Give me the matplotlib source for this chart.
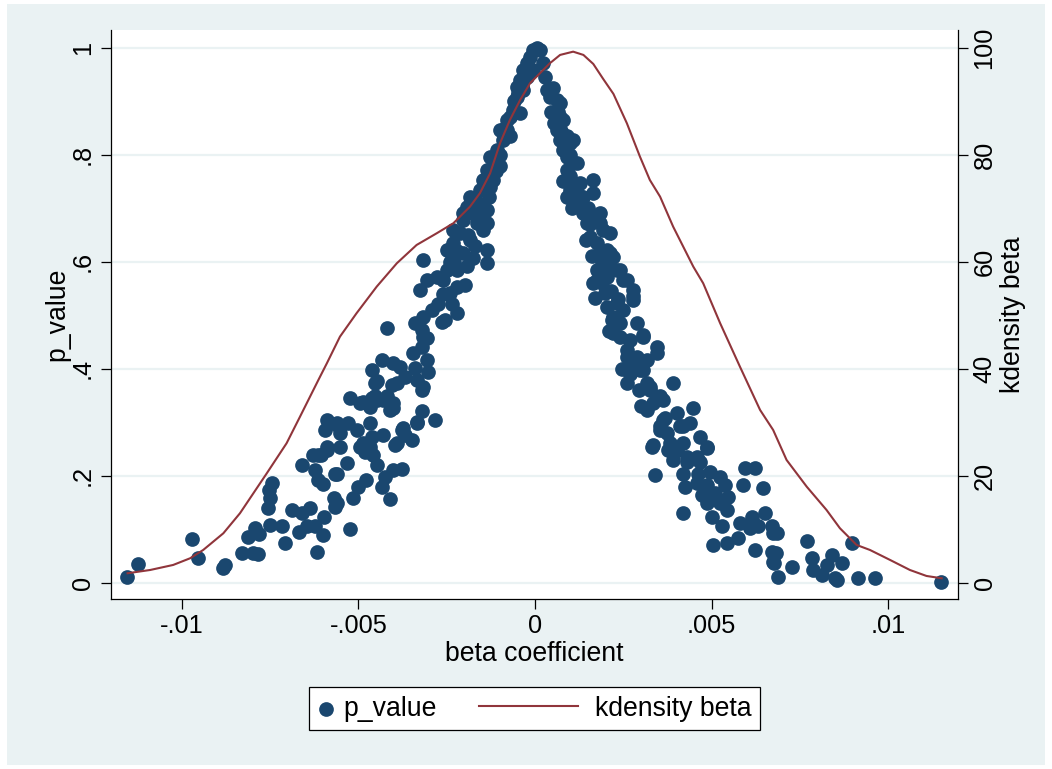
import numpy as np
import matplotlib
matplotlib.use("Agg")
import matplotlib.pyplot as plt
from matplotlib.patches import Rectangle
from matplotlib.legend_handler import HandlerPathCollection, HandlerLine2D

plt.rcParams['font.family'] = ['Liberation Sans', 'DejaVu Sans']

navy = '#1a476f'
maroon = '#90353b'
bg = '#eaf2f3'

# scatter: beta coefficient (in units of 1e-3) against p_value
beta_e3 = [
    -11.54, -11.23, -9.71, -9.55, -8.82, -8.77, -8.30, -7.97, -7.85, -8.11,
    -7.92, -7.82, -7.50, -7.17, -7.07, -7.57, -7.50, -7.52, -7.45, -6.88,
    -6.69, -6.60, -6.37, -6.46, -6.18, -6.01, -5.97, -6.23, -6.58, -6.23,
    -6.13, -6.01, -6.29, -6.06, -5.89, -5.94, -5.89, -5.66, -5.70, -5.66,
    -5.61, -5.61, -5.23, -5.14, -5.00, -4.77, -4.34, -4.10, -4.24, -4.01,
    -3.77, -5.61, -5.33, -6.13, -5.89, -5.52, -5.61, -5.52, -5.28, -5.03,
    -4.95, -4.81, -4.86, -4.67, -4.58, -4.48, -4.67, -4.62, -4.29, -3.96,
    -3.68, -3.49, -3.73, -3.35, -3.21, -5.23, -4.95, -4.67, -4.53, -4.48,
    -4.29, -4.10, -4.01, -4.62, -4.48, -4.34, -4.01, -4.06, -3.82, -3.68,
    -3.40, -3.35, -3.21, -3.44, -4.20, -3.40, -3.21, -3.16, -3.16, -3.91,
    -3.77, -3.35, -2.83, -4.86, -4.62, -4.20, -4.01, -3.91, -4.53, -3.16,
    -3.06, -3.02, -3.21, -3.06, -2.92, -2.55, -2.22, -2.64, -3.25, -3.06,
    -2.59, -2.41, -2.22, -1.98, -3.16, -2.50, -2.41, -2.22, -1.93, -1.75,
    -2.45, -2.03, -2.12, -1.84, -1.46, -2.03, -2.78, -2.50, -2.31, -2.03,
    -1.75, -1.37, -1.65, -1.37, -1.37, -1.46, -1.37, -1.27, -1.08, -0.99,
    -0.90, -0.80, -0.61, -0.52, -0.42, -0.33, -0.23, -0.14, -0.05, 0.05,
    -0.80, -0.99, -1.18, -1.27, -1.56, -1.84, -1.93, -1.65, -1.37, -2.31,
    -0.71, -0.52, -0.42, -0.33, -0.23, -0.05, 0.14, 0.23, 0.28, 0.33,
    0.42, 0.52, 0.61, 0.71, 0.71, 0.80, 0.61, 0.71, 0.90, 0.99,
    0.80, 0.90, 1.08, 0.90, 0.80, 0.99, 0.90, 1.27, 1.65, 1.65,
    1.37, 1.18, 1.37, 1.46, 1.65, 1.84, 1.93, 2.12, 1.56, 1.75,
    2.03, 1.84, 2.22, 1.75, 2.03, 2.41, 2.59, 1.75, 1.08, 1.18,
    1.84, 2.12, 2.31, 1.65, 2.03, 2.50, 2.78, 2.78, 1.70, 2.03,
    2.22, 2.50, 2.88, 3.06, 2.22, 2.59, 2.78, 3.44, 3.44, 3.16,
    2.97, 2.59, 3.25, 3.91, 3.54, 3.16, 3.35, 4.48, 4.01, 3.63,
    3.54, 4.39, 4.67, 3.82, 4.20, 3.35, 4.86, 2.78, 1.98, 2.31,
    2.17, 2.41, 2.69, 3.06, 2.59, 2.88, 2.78, 3.06, 3.16, 3.25,
    3.63, 3.68, 4.20, 3.73, 3.82, 4.29, 4.58, 3.54, 4.10, 3.30,
    3.77, 4.01, 4.86, 3.91, 4.29, 4.67, 3.40, 4.20, 4.62, 4.95,
    5.23, 4.24, 4.58, 4.86, 5.38, 4.72, 5.09, 5.47, 4.86, 5.23,
    5.42, 5.00, 4.20, 5.28, 5.94, 5.89, 6.46, 5.80, 6.13, 6.51,
    6.32, 6.70, 6.74, 6.08, 5.75, 5.42, 5.05, 6.23, 6.70, 6.74,
    6.89, 7.26, 7.69, 7.83, 7.88, 8.11, 8.40, 8.49, 6.23, 6.18,
    6.84, 6.81, 6.76, 8.25, 8.68, 8.54, 8.96, 9.15, 9.62, 11.49,
    # dense parts of the two branches near the peak
    -1.10, -1.20, -1.00, -0.85, -0.70, -0.60, -0.48, -0.38, -1.50, -1.60,
    -1.75, -1.30, -1.50, -2.20, -2.30, -1.90, -1.70, -2.60, -2.75, -2.35,
    0.45, 0.55, 0.65, 0.75, 0.85, 1.00, 1.00, 1.10, 1.05, 1.20,
    1.30, 1.50, 1.55, 1.45, 1.60, 1.90, 1.90, 2.15, 2.35, 2.10,
    2.40, 2.45, 2.70, 2.95, 3.00,
]
p_value = [
    0.011, 0.035, 0.082, 0.047, 0.027, 0.033, 0.055, 0.056, 0.054, 0.086,
    0.102, 0.091, 0.108, 0.105, 0.075, 0.139, 0.158, 0.173, 0.187, 0.136,
    0.095, 0.130, 0.139, 0.105, 0.057, 0.089, 0.123, 0.105, 0.219, 0.211,
    0.192, 0.184, 0.239, 0.239, 0.248, 0.285, 0.304, 0.204, 0.158, 0.142,
    0.298, 0.148, 0.100, 0.158, 0.179, 0.192, 0.179, 0.156, 0.198, 0.211,
    0.212, 0.204, 0.223, 0.239, 0.254, 0.254, 0.295, 0.279, 0.299, 0.285,
    0.254, 0.245, 0.261, 0.254, 0.239, 0.220, 0.298, 0.273, 0.276, 0.257,
    0.276, 0.267, 0.289, 0.298, 0.320, 0.345, 0.335, 0.329, 0.348, 0.342,
    0.342, 0.323, 0.335, 0.398, 0.376, 0.416, 0.410, 0.370, 0.404, 0.385,
    0.401, 0.379, 0.360, 0.429, 0.476, 0.485, 0.472, 0.497, 0.460, 0.261,
    0.285, 0.301, 0.304, 0.338, 0.345, 0.348, 0.326, 0.373, 0.373, 0.366,
    0.416, 0.394, 0.441, 0.457, 0.510, 0.491, 0.504, 0.488, 0.547, 0.566,
    0.566, 0.541, 0.553, 0.556, 0.603, 0.584, 0.600, 0.584, 0.591, 0.606,
    0.622, 0.616, 0.653, 0.641, 0.659, 0.678, 0.572, 0.622, 0.659, 0.690,
    0.715, 0.697, 0.672, 0.622, 0.597, 0.753, 0.771, 0.796, 0.809, 0.778,
    0.827, 0.865, 0.883, 0.908, 0.940, 0.958, 0.971, 0.983, 0.996, 1.000,
    0.846, 0.846, 0.753, 0.740, 0.734, 0.721, 0.703, 0.697, 0.672, 0.634,
    0.834, 0.927, 0.877, 0.921, 0.946, 0.958, 0.996, 0.971, 0.946, 0.921,
    0.908, 0.924, 0.902, 0.896, 0.871, 0.865, 0.846, 0.827, 0.834, 0.821,
    0.809, 0.796, 0.784, 0.771, 0.750, 0.734, 0.721, 0.747, 0.753, 0.728,
    0.721, 0.709, 0.690, 0.672, 0.684, 0.690, 0.659, 0.653, 0.647, 0.634,
    0.622, 0.616, 0.609, 0.584, 0.591, 0.584, 0.566, 0.566, 0.827, 0.784,
    0.672, 0.616, 0.584, 0.560, 0.572, 0.566, 0.547, 0.535, 0.532, 0.516,
    0.497, 0.510, 0.485, 0.460, 0.466, 0.435, 0.410, 0.441, 0.429, 0.416,
    0.398, 0.373, 0.366, 0.373, 0.348, 0.323, 0.335, 0.326, 0.317, 0.304,
    0.292, 0.298, 0.273, 0.261, 0.261, 0.257, 0.254, 0.528, 0.541, 0.522,
    0.491, 0.485, 0.454, 0.463, 0.422, 0.422, 0.404, 0.398, 0.373, 0.360,
    0.342, 0.307, 0.292, 0.279, 0.248, 0.235, 0.235, 0.285, 0.292, 0.254,
    0.248, 0.248, 0.251, 0.229, 0.226, 0.226, 0.201, 0.204, 0.204, 0.207,
    0.198, 0.179, 0.186, 0.183, 0.183, 0.164, 0.167, 0.161, 0.148, 0.148,
    0.136, 0.123, 0.130, 0.105, 0.214, 0.183, 0.176, 0.111, 0.123, 0.130,
    0.105, 0.105, 0.092, 0.102, 0.083, 0.074, 0.070, 0.061, 0.058, 0.039,
    0.011, 0.030, 0.077, 0.046, 0.024, 0.014, 0.052, 0.008, 0.214, 0.111,
    0.092, 0.055, 0.036, 0.033, 0.037, 0.005, 0.074, 0.009, 0.009, 0.001,
    # dense parts of the two branches near the peak
    0.770, 0.790, 0.800, 0.850, 0.870, 0.900, 0.915, 0.930, 0.700, 0.710,
    0.690, 0.720, 0.680, 0.620, 0.600, 0.650, 0.630, 0.540, 0.520, 0.520,
    0.880, 0.860, 0.880, 0.845, 0.810, 0.800, 0.760, 0.745, 0.700, 0.730,
    0.700, 0.700, 0.670, 0.640, 0.610, 0.600, 0.560, 0.545, 0.530, 0.470,
    0.460, 0.400, 0.390, 0.360, 0.330,
]

# kernel density of beta (beta in units of 1e-3)
kd_beta_e3 = [
    -11.53, -10.89, -10.24, -9.76, -9.39, -8.82, -8.35, -7.97, -7.59, -7.03,
    -6.65, -6.13, -5.89, -5.52, -5.05, -4.48, -3.91, -3.35, -2.78, -2.31,
    -1.84, -1.56, -1.27, -0.99, -0.71, -0.42, -0.14, 0.14, 0.42, 0.71,
    1.08, 1.37, 1.65, 1.93, 2.22, 2.60, 2.97, 3.25, 3.54, 3.91,
    4.48, 4.76, 5.24, 5.80, 6.37, 6.74, 7.12, 7.69, 8.25, 8.63,
    9.10, 9.48, 10.05, 10.61, 11.08, 11.51,
]
kd_dens = [
    1.76, 2.37, 3.31, 4.56, 6.11, 9.23, 12.97, 16.71, 20.45, 26.06,
    31.03, 37.89, 41.01, 45.98, 50.36, 55.33, 59.70, 63.12, 65.31, 67.18,
    70.28, 72.79, 76.52, 82.13, 86.49, 90.22, 93.35, 95.21, 97.08, 98.64,
    99.25, 98.64, 96.95, 94.15, 91.35, 85.87, 79.63, 75.27, 72.15, 66.54,
    59.07, 55.96, 48.49, 40.37, 32.28, 28.54, 22.93, 17.94, 13.59, 10.17,
    7.05, 6.11, 4.24, 2.37, 1.25, 0.82,
]

x_ticks = [-0.01, -0.005, 0, 0.005, 0.01]
x_labels = ['-.01', '-.005', '0', '.005', '.01']
y_ticks = [0, 0.2, 0.4, 0.6, 0.8, 1]
y_labels = ['0', '.2', '.4', '.6', '.8', '1']
y2_ticks = [0, 20, 40, 60, 80, 100]
y2_labels = ['0', '20', '40', '60', '80', '100']


class DotKey(HandlerPathCollection):
    # marker sits at the left of a short key, like Stata's legend
    def get_xdata(self, legend, xdescent, ydescent, width, height, fontsize):
        x = -xdescent + 0.31 * fontsize
        return [x], [x]


class WideLineKey(HandlerLine2D):
    # line key reaching further left than the handle box
    def get_xdata(self, legend, xdescent, ydescent, width, height, fontsize):
        x = np.array([-xdescent - 3.37 * fontsize, -xdescent + width])
        return x, x


fig = plt.figure(figsize=(10.52, 7.69), dpi=100, facecolor='white')
fig.patches.append(Rectangle((0.0067, 0.0052), 0.9867, 0.9896,
                             transform=fig.transFigure, facecolor=bg,
                             edgecolor='none', zorder=-1))

ax = fig.add_axes([0.1055, 0.2211, 0.8051, 0.7399])
ax.set_facecolor('white')
ax2 = ax.twinx()

sc = ax.scatter(np.array(beta_e3) * 1e-3, p_value, s=112, color=navy,
                linewidths=0, zorder=3, label='p_value')
ln, = ax2.plot(np.array(kd_beta_e3) * 1e-3, kd_dens, color=maroon, lw=1.5,
               label='kdensity beta')

ax.set_xlim(-0.012, 0.01197)
ax.set_ylim(-0.0305, 1.033)
ax2.set_ylim(-3.05, 103.3)

ax.set_xticks(x_ticks, x_labels)
ax.set_yticks(y_ticks, y_labels, rotation=90, va='center')
ax2.set_yticks(y2_ticks, y2_labels, rotation=90, va='center')

ax.tick_params(axis='x', direction='out', length=7, width=0.9, pad=3.6,
               labelsize=18.3)
ax.tick_params(axis='y', direction='out', length=7.5, width=0.9, pad=4,
               labelsize=18.3)
ax2.tick_params(axis='y', direction='out', length=7.5, width=0.9, pad=3,
                labelsize=18.3)

ax.yaxis.grid(True, color=bg, lw=1.6)
ax.set_axisbelow(True)

for s in ['top', 'right']:
    ax.spines[s].set_visible(False)
for s in ['top', 'left', 'bottom']:
    ax2.spines[s].set_visible(False)
ax.spines['left'].set_linewidth(0.9)
ax.spines['bottom'].set_linewidth(0.9)
ax2.spines['right'].set_linewidth(0.9)

ax.set_xlabel('beta coefficient', fontsize=19.2)
ax.xaxis.set_label_coords(0.5, -0.074)
ax.set_ylabel('p_value', fontsize=19.2)
ax.yaxis.set_label_coords(-0.048, 0.5)
ax2.set_ylabel('kdensity beta', fontsize=19.2)
ax2.yaxis.set_label_coords(1.05, 0.5)

leg = fig.legend([sc, ln], ['p_value', 'kdensity beta'], loc='upper center',
                 bbox_to_anchor=(534.5 / 1052, 1 - 687 / 769), ncol=2,
                 fontsize=19.2, handlelength=0.34, handletextpad=0.64,
                 columnspacing=4.93, borderpad=0.32, borderaxespad=0,
                 frameon=True, fancybox=False, edgecolor='black',
                 framealpha=1, facecolor='white',
                 handler_map={sc: DotKey(), ln: WideLineKey()})
leg.get_frame().set_linewidth(0.9)

fig.savefig('out.png', dpi=100, facecolor=fig.get_facecolor())
